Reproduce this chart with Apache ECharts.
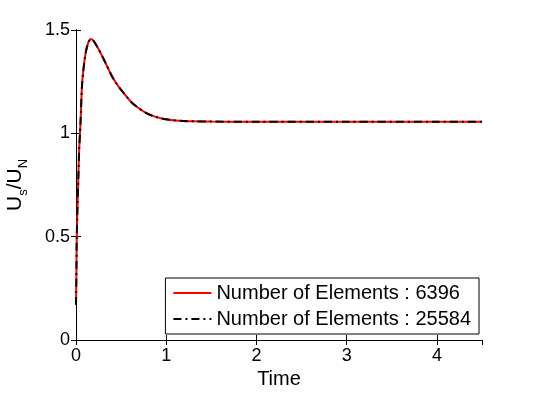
<!DOCTYPE html>
<html>
<head>
<meta charset="utf-8">
<script src="https://cdn.jsdelivr.net/npm/echarts@6/dist/echarts.min.js"></script>
<style>
  html, body { margin: 0; padding: 0; background: #fff; }
  #chart { width: 534px; height: 395px; }
</style>
</head>
<body>
<div id="chart"></div>
<script>
// values
const timeVals = [0, 0.004, 0.008, 0.015, 0.025, 0.035, 0.05, 0.065, 0.08, 0.1, 0.12, 0.14, 0.166, 0.19, 0.22,
  0.26, 0.3, 0.35, 0.4, 0.45, 0.5, 0.56, 0.62, 0.7, 0.78, 0.86, 0.95, 1.05, 1.15, 1.3, 1.5, 2, 3, 4, 4.5];
const ratio6396 = [0.17, 0.3, 0.48, 0.62, 0.77, 0.92, 1.05, 1.22, 1.3, 1.37, 1.415, 1.443, 1.456, 1.45, 1.43,
  1.4, 1.365, 1.32, 1.275, 1.24, 1.21, 1.178, 1.148, 1.12, 1.098, 1.083, 1.072, 1.065, 1.061, 1.058, 1.057, 1.056, 1.056, 1.056, 1.056];
const ratio25584 = [0.17, 0.3, 0.48, 0.62, 0.77, 0.92, 1.05, 1.22, 1.3, 1.37, 1.415, 1.443, 1.456, 1.45, 1.43,
  1.4, 1.365, 1.32, 1.275, 1.24, 1.21, 1.178, 1.148, 1.12, 1.098, 1.083, 1.072, 1.065, 1.061, 1.058, 1.057, 1.056, 1.056, 1.056, 1.056];
const xTicks = [0, 1, 2, 3, 4];
const yTicks = [0, 0.5, 1, 1.5];

const seriesNames = ['Number of Elements : 6396', 'Number of Elements : 25584'];
const font = 'Liberation Sans, Arial, sans-serif';

const pairs = (xs, ys) => xs.map((x, i) => [x, ys[i]]);

const chart = echarts.init(document.getElementById('chart'));

// 坐标轴公共样式
const axisBase = {
  type: 'value',
  axisLine: { show: true, lineStyle: { color: '#000', width: 1 } },
  axisTick: { show: true, inside: true, length: 5, lineStyle: { color: '#000' } },
  splitLine: { show: false },
};

const option = {
  backgroundColor: '#fff',
  animation: false,
  grid: { left: 76, right: 52, top: 30, bottom: 55, containLabel: false, outerBoundsMode: 'none' },
  legend: {
    orient: 'vertical',
    right: 55,
    bottom: 61,
    backgroundColor: '#fff',
    borderColor: '#000',
    borderWidth: 1,
    borderRadius: 0,
    padding: [5, 8, 5, 7],
    itemWidth: 38,
    itemHeight: 20,
    itemGap: 6,
    itemStyle: { opacity: 0 },
    textStyle: { fontFamily: font, fontSize: 20, lineHeight: 20, color: '#000' },
    data: seriesNames,
  },
  xAxis: [
    {
      ...axisBase,
      min: 0, max: 4.5, interval: 1,
      name: 'Time',
      nameLocation: 'middle',
      nameGap: 22,
      nameTextStyle: { fontFamily: font, fontSize: 20, color: '#000' },
      axisLabel: {
        fontFamily: font, fontSize: 18, color: '#000', margin: 7,
        showMaxLabel: false,
        formatter: v => (xTicks.includes(v) ? String(v) : ''),
      },
    },
    {
      ...axisBase,
      position: 'top',
      min: 0, max: 4.5, interval: 1,
      axisLabel: { show: false },
    },
  ],
  yAxis: [
    {
      ...axisBase,
      min: 0, max: 1.5, interval: 0.5,
      name: '{m|U}{s|s}{m|/U}{s|N}',
      nameLocation: 'middle',
      nameRotate: 90,
      nameGap: 46,
      nameTextStyle: {
        rich: {
          m: { fontFamily: font, fontSize: 21, color: '#000' },
          s: { fontFamily: font, fontSize: 13, color: '#000', padding: [16, 0, 0, 0] },
        },
      },
      axisLabel: {
        fontFamily: font, fontSize: 18, color: '#000', margin: 6,
        formatter: v => (yTicks.includes(v) ? String(v) : ''),
      },
    },
    {
      ...axisBase,
      position: 'right',
      min: 0, max: 1.5, interval: 0.5,
      axisLabel: { show: false },
    },
  ],
  series: [
    {
      name: seriesNames[0],
      type: 'line',
      data: pairs(timeVals, ratio6396),
      showSymbol: false,
      symbol: 'none',
      smooth: 0.3,
      lineStyle: { color: '#ff0000', width: 2 },
      itemStyle: { color: '#ff0000' },
    },
    {
      name: seriesNames[1],
      type: 'line',
      data: pairs(timeVals, ratio25584),
      showSymbol: false,
      symbol: 'none',
      smooth: 0.3,
      lineStyle: { color: '#000', width: 2, type: [8, 4, 2, 4] },
      itemStyle: { color: '#000' },
    },
  ],
};

chart.setOption(option);
</script>
</body>
</html>
